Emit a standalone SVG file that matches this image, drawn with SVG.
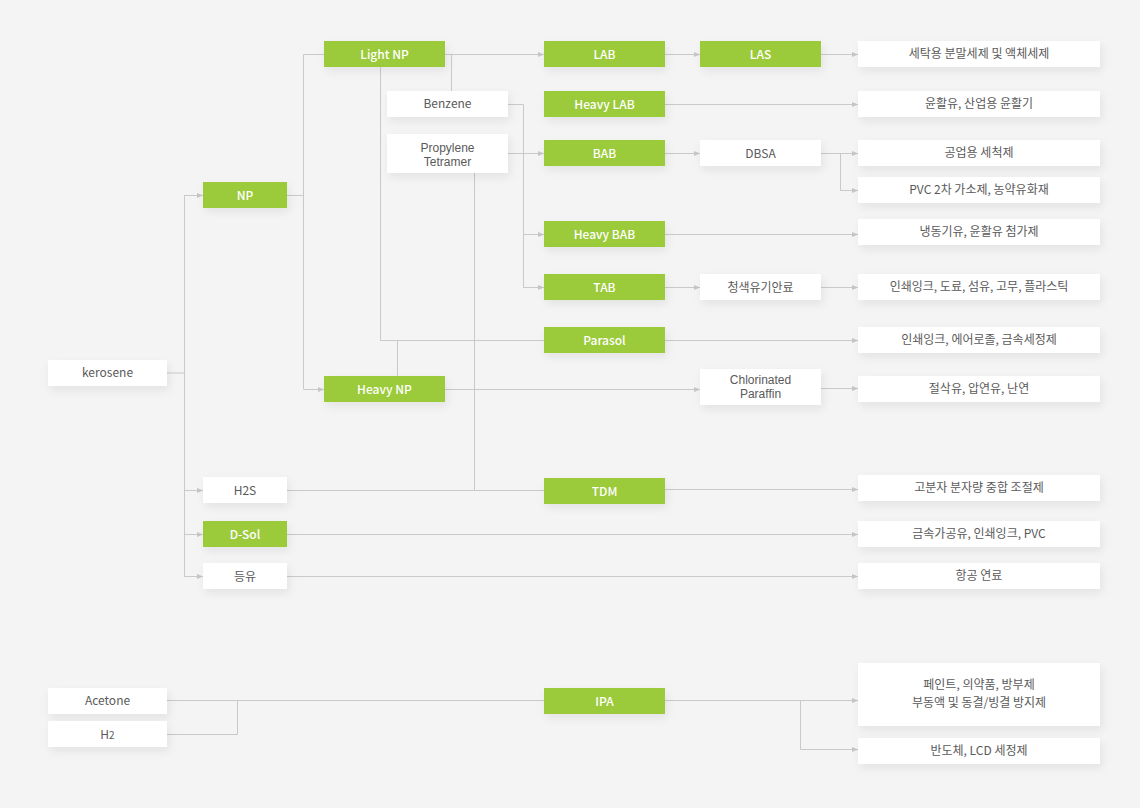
<svg xmlns="http://www.w3.org/2000/svg" width="1140" height="808" viewBox="0 0 1140 808">
<defs>
<filter id="sh" x="-20%" y="-40%" width="140%" height="200%">
<feDropShadow dx="2" dy="4" stdDeviation="4" flood-color="#000" flood-opacity="0.07"/>
</filter>
<marker id="ar" viewBox="0 0 6 6" refX="6" refY="3" markerWidth="6" markerHeight="6" markerUnits="userSpaceOnUse" orient="auto">
<path d="M0,0.5 L6,3 L0,5.5 Z" fill="#c6c6c6"/>
</marker>
<style>
.g{fill:#9bca3b}
.w{fill:#ffffff}
.tg{font-family:"Noto Sans CJK KR","Noto Sans",sans-serif;font-size:12px;font-weight:500;fill:#ffffff;text-anchor:middle}
.tw{font-family:"Noto Sans CJK KR","Noto Sans",sans-serif;font-size:12px;fill:#5a5a5a;text-anchor:middle}
.t2{font-family:"Liberation Sans",Arial,sans-serif;font-size:12px;fill:#5a5a5a;text-anchor:middle}
.c{fill:none;stroke:#c9c9c9;stroke-width:1}
.a{marker-end:url(#ar)}
</style>
</defs>
<rect width="1140" height="808" fill="#f4f4f4"/>

<g id="connectors">
<path class="c" d="M167,373 H184.5 M184.5,195 V576.5"/>
<path class="c a" d="M184.5,195.5 H203"/>
<path class="c a" d="M184.5,490.5 H203"/>
<path class="c a" d="M184.5,534.5 H203"/>
<path class="c a" d="M184.5,576.5 H203"/>
<path class="c" d="M287,195.5 H303.5 M303.5,54.5 V389 M303.5,54.5 H324"/>
<path class="c a" d="M303.5,389.5 H324"/>
<path class="c a" d="M445,54.5 H544"/>
<path class="c" d="M451.5,54.5 V91"/>
<path class="c" d="M380.5,67 V340.5 H544 M397.5,340.5 V376"/>
<path class="c" d="M508,104.5 H523.5 V287.5"/>
<path class="c a" d="M523.5,234.5 H544"/>
<path class="c a" d="M523.5,287.5 H544"/>
<path class="c a" d="M508,153.5 H544"/>
<path class="c" d="M474.5,173 V490.5"/>
<path class="c" d="M287,490.5 H544"/>
<path class="c a" d="M445,389.5 H700"/>
<path class="c a" d="M665,54.5 H700"/>
<path class="c a" d="M821,54.5 H858"/>
<path class="c a" d="M665,104.5 H858"/>
<path class="c a" d="M665,153.5 H700"/>
<path class="c a" d="M821,153.5 H858"/>
<path class="c a" d="M840.5,153.5 V190.5 H858"/>
<path class="c a" d="M665,234.5 H858"/>
<path class="c a" d="M665,287.5 H700"/>
<path class="c a" d="M821,287.5 H858"/>
<path class="c a" d="M665,340.5 H858"/>
<path class="c a" d="M821,388.5 H858"/>
<path class="c a" d="M665,489.5 H858"/>
<path class="c a" d="M287,534.5 H858"/>
<path class="c a" d="M287,576.5 H858"/>
<path class="c" d="M167,700.5 H544 M167,734.5 H237.5 V700.5"/>
<path class="c a" d="M665,700.5 H858"/>
<path class="c a" d="M800.5,700.5 V749.5 H858"/>
</g>

<g id="kerosene"><rect class="w" x="48" y="360" width="119" height="26" filter="url(#sh)"/><text class="tw" x="107.5" y="377">kerosene</text></g>
<g id="np"><rect class="g" x="203" y="182" width="84" height="26" filter="url(#sh)"/><text class="tg" x="245" y="199.5">NP</text></g>
<g id="h2s"><rect class="w" x="203" y="477" width="84" height="26" filter="url(#sh)"/><text class="tw" x="245" y="494.5">H2S</text></g>
<g id="dsol"><rect class="g" x="203" y="521" width="84" height="26" filter="url(#sh)"/><text class="tg" x="245" y="538.5">D-Sol</text></g>
<g id="deungyu"><rect class="w" x="203" y="563" width="84" height="26" filter="url(#sh)"/><text class="tw" x="245" y="580.5">등유</text></g>

<g id="lightnp"><rect class="g" x="324" y="41" width="121" height="26" filter="url(#sh)"/><text class="tg" x="384.5" y="58.5">Light NP</text></g>
<g id="heavynp"><rect class="g" x="324" y="376" width="121" height="26" filter="url(#sh)"/><text class="tg" x="384.5" y="393.5">Heavy NP</text></g>
<g id="benzene"><rect class="w" x="387" y="91" width="121" height="26" filter="url(#sh)"/><text class="tw" x="447.5" y="108">Benzene</text></g>
<g id="propylene"><rect class="w" x="387" y="134" width="121" height="39" filter="url(#sh)"/><text class="t2" x="447.5" y="151.5">Propylene</text><text class="t2" x="447.5" y="165.5">Tetramer</text></g>

<g id="lab"><rect class="g" x="544" y="41" width="121" height="26" filter="url(#sh)"/><text class="tg" x="604.5" y="58.5">LAB</text></g>
<g id="heavylab"><rect class="g" x="544" y="91" width="121" height="26" filter="url(#sh)"/><text class="tg" x="604.5" y="108.5">Heavy LAB</text></g>
<g id="bab"><rect class="g" x="544" y="140" width="121" height="26" filter="url(#sh)"/><text class="tg" x="604.5" y="157.5">BAB</text></g>
<g id="heavybab"><rect class="g" x="544" y="221" width="121" height="26" filter="url(#sh)"/><text class="tg" x="604.5" y="238.5">Heavy BAB</text></g>
<g id="tab"><rect class="g" x="544" y="274" width="121" height="26" filter="url(#sh)"/><text class="tg" x="604.5" y="291.5">TAB</text></g>
<g id="parasol"><rect class="g" x="544" y="327" width="121" height="26" filter="url(#sh)"/><text class="tg" x="604.5" y="344.5">Parasol</text></g>
<g id="tdm"><rect class="g" x="544" y="478" width="121" height="26" filter="url(#sh)"/><text class="tg" x="604.5" y="495.5">TDM</text></g>
<g id="ipa"><rect class="g" x="544" y="688" width="121" height="26" filter="url(#sh)"/><text class="tg" x="604.5" y="705.5">IPA</text></g>

<g id="las"><rect class="g" x="700" y="41" width="121" height="26" filter="url(#sh)"/><text class="tg" x="760.5" y="58.5">LAS</text></g>
<g id="dbsa"><rect class="w" x="700" y="140" width="121" height="26" filter="url(#sh)"/><text class="tw" x="760.5" y="157.5">DBSA</text></g>
<g id="pigment"><rect class="w" x="700" y="274" width="121" height="26" filter="url(#sh)"/><text class="tw" x="760.5" y="291.5">청색유기안료</text></g>
<g id="chlorinated"><rect class="w" x="700" y="369" width="121" height="36" filter="url(#sh)"/><text class="t2" x="760.5" y="384">Chlorinated</text><text class="t2" x="760.5" y="398">Paraffin</text></g>

<g id="acetone"><rect class="w" x="48" y="688" width="119" height="26" filter="url(#sh)"/><text class="tw" x="107.5" y="705">Acetone</text></g>
<g id="h2"><rect class="w" x="48" y="721" width="119" height="26" filter="url(#sh)"/><text class="tw" x="107.5" y="738.5">H<tspan font-size="10">2</tspan></text></g>

<g id="r1"><rect class="w" x="858" y="41" width="242" height="26" filter="url(#sh)"/><text class="tw" x="979" y="58">세탁용 분말세제 및 액체세제</text></g>
<g id="r2"><rect class="w" x="858" y="91" width="242" height="26" filter="url(#sh)"/><text class="tw" x="979" y="108">윤활유, 산업용 윤활기</text></g>
<g id="r3"><rect class="w" x="858" y="140" width="242" height="26" filter="url(#sh)"/><text class="tw" x="979" y="157">공업용 세척제</text></g>
<g id="r4"><rect class="w" x="858" y="177" width="242" height="26" filter="url(#sh)"/><text class="tw" x="979" y="194">PVC 2차 가소제, 농약유화재</text></g>
<g id="r5"><rect class="w" x="858" y="219" width="242" height="26" filter="url(#sh)"/><text class="tw" x="979" y="236">냉동기유, 윤활유 첨가제</text></g>
<g id="r6"><rect class="w" x="858" y="274" width="242" height="26" filter="url(#sh)"/><text class="tw" x="979" y="291">인쇄잉크, 도료, 섬유, 고무, 플라스틱</text></g>
<g id="r7"><rect class="w" x="858" y="327" width="242" height="26" filter="url(#sh)"/><text class="tw" x="979" y="344">인쇄잉크, 에어로졸, 금속세정제</text></g>
<g id="r8"><rect class="w" x="858" y="376" width="242" height="26" filter="url(#sh)"/><text class="tw" x="979" y="393">절삭유, 압연유, 난연</text></g>
<g id="r9"><rect class="w" x="858" y="475" width="242" height="26" filter="url(#sh)"/><text class="tw" x="979" y="492">고분자 분자량 중합 조절제</text></g>
<g id="r10"><rect class="w" x="858" y="521" width="242" height="26" filter="url(#sh)"/><text class="tw" x="979" y="538">금속가공유, 인쇄잉크, PVC</text></g>
<g id="r11"><rect class="w" x="858" y="563" width="242" height="26" filter="url(#sh)"/><text class="tw" x="979" y="580">항공 연료</text></g>
<g id="r12"><rect class="w" x="858" y="663" width="242" height="63" filter="url(#sh)"/><text class="tw" x="979" y="689">페인트, 의약품, 방부제</text><text class="tw" x="979" y="706.5">부동액 및 동결/빙결 방지제</text></g>
<g id="r13"><rect class="w" x="858" y="738" width="242" height="26" filter="url(#sh)"/><text class="tw" x="979" y="755">반도체, LCD 세정제</text></g>
</svg>
